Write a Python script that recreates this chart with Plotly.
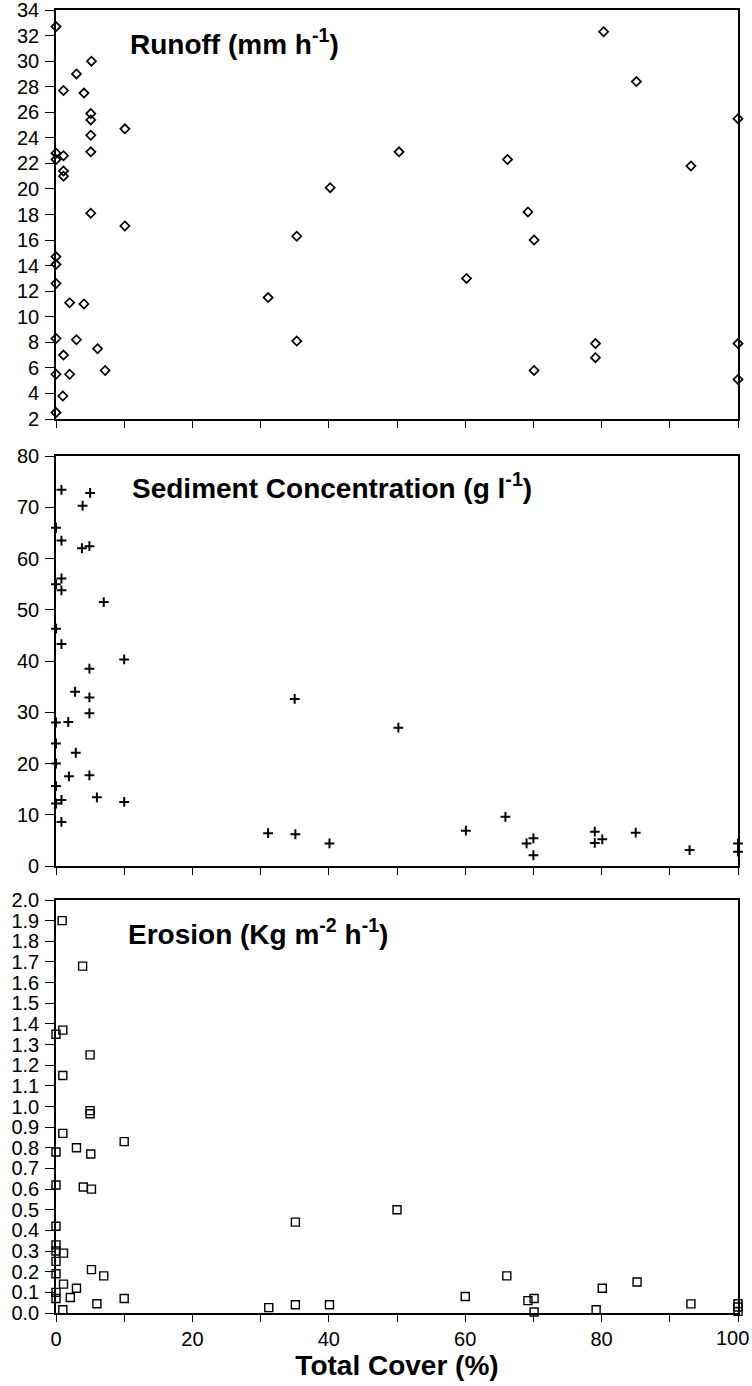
import plotly.graph_objects as go

# ---------------- data ----------------
runoff_cover = [0, 1.1, 3.0, 5.2, 4.1, 5.1, 5.1, 5.1, 5.1, 10.1, 0, 0, 1.1, 1.1, 1.1, 5.1, 10.1,
                40.2, 35.3, 0, 0, 0, 2.0, 4.1, 31.1, 0, 3.0, 35.3, 1.1, 6.1, 0, 2.0, 7.2, 1.0, 0,
                50.3, 80.3, 85.1, 100, 66.2, 93.1, 69.2, 70.1, 60.2, 79.1, 79.1, 70.1, 100, 100]
runoff_vals = [32.7, 27.7, 29.0, 30.0, 27.5, 25.9, 25.4, 24.2, 22.9, 24.7, 22.8, 22.3, 22.6, 21.4, 21.0, 18.1, 17.1,
               20.1, 16.3, 14.7, 14.1, 12.6, 11.1, 11.0, 11.5, 8.3, 8.2, 8.1, 7.0, 7.5, 5.5, 5.5, 5.8, 3.8, 2.5,
               22.9, 32.3, 28.4, 25.5, 22.3, 21.8, 18.2, 16.0, 13.0, 7.9, 6.8, 5.8, 7.9, 5.1]

sed_cover = [0.8, 5.0, 3.9, 0, 0.8, 3.8, 4.9, 0.8, 0, 0.8, 7.0, 0, 0.8, 10.0, 4.9, 2.8, 4.9, 4.9, 0, 1.8,
             0, 2.9, 0, 1.9, 4.9, 0, 6.0, 0.8, 0, 10.0, 0.8, 31.1, 35.1, 40.1, 35.0, 50.2, 60.1, 65.9,
             69.0, 70.0, 70.0, 79.0, 79.0, 80.1, 85.0, 92.9, 100, 100]
sed_vals = [73.4, 72.8, 70.3, 66.0, 63.5, 62.0, 62.4, 56.1, 55.0, 53.8, 51.5, 46.3, 43.3, 40.3, 38.5, 34.0, 32.9, 29.8, 28.0, 28.1,
            23.9, 22.1, 20.0, 17.5, 17.7, 15.6, 13.4, 12.9, 12.2, 12.5, 8.6, 6.4, 6.2, 4.4, 32.6, 27.0, 6.9, 9.6,
            4.4, 5.4, 2.1, 6.7, 4.5, 5.2, 6.5, 3.1, 4.4, 2.8]

ero_cover = [0.9, 3.9, 1.0, 0, 5.0, 1.0, 5.0, 5.0, 1.0, 10.0, 3.0, 5.1, 0, 0, 4.0, 5.2, 0, 0, 0, 1.1,
             0, 0, 5.2, 7.0, 1.1, 3.0, 0, 0, 2.1, 10.0, 6.0, 1.0, 31.2, 35.1, 40.1, 35.1, 50.0, 60.0,
             66.1, 69.2, 70.1, 70.1, 79.2, 80.1, 85.2, 93.1, 100, 100, 100]
ero_vals = [1.90, 1.68, 1.37, 1.35, 1.25, 1.15, 0.98, 0.965, 0.87, 0.83, 0.80, 0.77, 0.78, 0.62, 0.61, 0.60, 0.42, 0.33, 0.30, 0.29,
            0.25, 0.19, 0.21, 0.18, 0.14, 0.12, 0.10, 0.07, 0.075, 0.07, 0.045, 0.016, 0.026, 0.04, 0.04, 0.44, 0.50, 0.08,
            0.18, 0.06, 0.07, 0.005, 0.016, 0.12, 0.15, 0.044, 0.045, 0.029, 0.008]

x_label_ticks = [0, 20, 40, 60, 80]
x_label_text = ["0", "20", "40", "60", "80"]
x_last_label = "100"   # drawn flush with the right page edge so it is not cut off
runoff_ticks = list(range(2, 35, 2))
sed_ticks = list(range(0, 81, 10))
ero_ticks = [round(i * 0.1, 1) for i in range(21)]

titles = ["Runoff (mm h<sup>-1</sup>)",
          "Sediment Concentration (g l<sup>-1</sup>)",
          "Erosion (Kg m<sup>-2</sup> h<sup>-1</sup>)"]

FONT = "Liberation Sans, Arial, sans-serif"

fig = go.Figure()
fig.add_trace(go.Scatter(x=runoff_cover, y=runoff_vals, mode="markers", xaxis="x", yaxis="y",
                         marker=dict(symbol="diamond-open", size=7, color="black", line=dict(width=1.7)),
                         cliponaxis=False, showlegend=False))
fig.add_trace(go.Scatter(x=sed_cover, y=sed_vals, mode="markers", xaxis="x2", yaxis="y2",
                         marker=dict(symbol="cross-thin-open", size=7, color="black", line=dict(width=2, color="black")),
                         cliponaxis=False, showlegend=False))
fig.add_trace(go.Scatter(x=ero_cover, y=ero_vals, mode="markers", xaxis="x3", yaxis="y3",
                         marker=dict(symbol="square-open", size=8, color="black", line=dict(width=1.4)),
                         cliponaxis=False, showlegend=False))

H_TOP, H_BOT = 10, 1313
def dom(y0, y1):
    span = H_BOT - H_TOP
    return [(H_BOT - y1) / span, (H_BOT - y0) / span]

common_x = dict(range=[0, 100], tickmode="array", tickvals=x_label_ticks, ticks="outside", ticklen=7,
                tickwidth=1.3, tickcolor="black", showline=True, linecolor="black", linewidth=1.6,
                mirror=True, showgrid=False, zeroline=False, automargin=False,
                minor=dict(dtick=10, tick0=0, ticks="outside", ticklen=7, tickwidth=1.3, tickcolor="black",
                           showgrid=False),
                tickfont=dict(family=FONT, size=20, color="black"))
common_y = dict(tickmode="array", ticks="outside", ticklen=9, tickwidth=1.3, tickcolor="black",
                showline=True, linecolor="black", linewidth=1.6, mirror=True, showgrid=False,
                zeroline=False, automargin=False, ticklabeloverflow="allow",
                tickfont=dict(family=FONT, size=20, color="black"), ticklabelstandoff=2)

fig.update_layout(
    width=752, height=1386,
    margin=dict(l=56, r=14, t=H_TOP, b=1386 - H_BOT),
    paper_bgcolor="white", plot_bgcolor="white",
    xaxis=dict(common_x, anchor="y", showticklabels=False),
    xaxis2=dict(common_x, anchor="y2", showticklabels=False),
    xaxis3=dict(common_x, anchor="y3", ticktext=x_label_text, ticklabeloverflow="allow",
                title=dict(text="<b>Total Cover (%)</b>", font=dict(family=FONT, size=28, color="black"),
                           standoff=4)),
    yaxis=dict(common_y, anchor="x", domain=dom(10, 419), range=[2, 34], tickvals=runoff_ticks),
    yaxis2=dict(common_y, anchor="x2", domain=dom(456, 866), range=[0, 80], tickvals=sed_ticks),
    yaxis3=dict(common_y, anchor="x3", domain=dom(900, 1313), range=[0, 2.0], tickvals=ero_ticks,
                tickformat=".1f"),
)

# major tick at 100 and its label, kept inside the page
fig.add_annotation(text=x_last_label, xref="x3", yref="paper", x=100, y=0, xanchor="right",
                   yanchor="middle", xshift=13, yshift=-25, showarrow=False,
                   font=dict(family=FONT, size=20, color="black"))

title_pos = [(128, 42), (130, 486), (126, 932)]
for t, (px, py) in zip(titles, title_pos):
    fig.add_annotation(text="<b>" + t + "</b>", xref="paper", yref="paper",
                       x=(px - 56) / (752 - 56 - 14), y=(H_BOT - py) / (H_BOT - H_TOP),
                       xanchor="left", yanchor="middle", showarrow=False,
                       font=dict(family=FONT, size=28, color="black"))

fig.write_html("out.html")
